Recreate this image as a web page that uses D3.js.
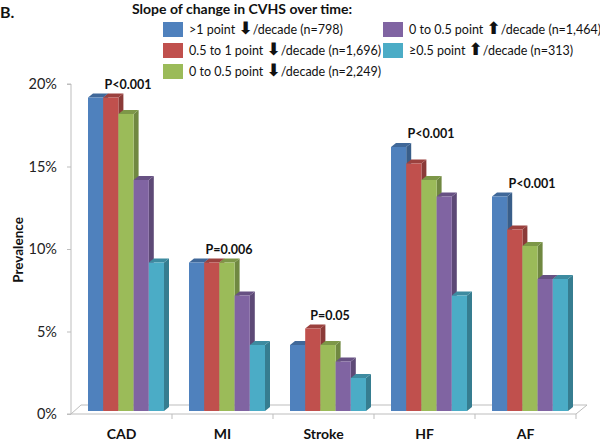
<!DOCTYPE html>
<meta charset="utf-8">
<style>
body { margin: 0; background: #fff; }
text { font-family: Lato, "Open Sans", sans-serif; fill: #111; }
.axis text { font-size: 14.5px; fill: #222; }
.bold { font-weight: bold; }
</style>
<svg width="600" height="441"></svg>
<script src="https://cdn.jsdelivr.net/npm/d3@7"></script>
<script>

// data
var categories = ["CAD", "MI", "Stroke", "HF", "AF"];
// legend labels split around the arrow glyph
var seriesBefore = [">1 point ", "0.5 to 1 point ", "0 to 0.5 point ", "0 to 0.5 point ", "\u22650.5 point "];
var seriesArrow = ["\u2B07", "\u2B07", "\u2B07", "\u2B06", "\u2B06"];
var seriesAfter = ["/decade (n=798)", "/decade (n=1,696)", "/decade (n=2,249)", "/decade (n=1,464)", "/decade (n=313)"];
var seriesColors = ["#4F81BD", "#C0504D", "#9BBB59", "#8064A2", "#4BACC6"];
var values = [
  [19, 19, 18, 14, 9],   // CAD
  [9, 9, 9, 7, 4],       // MI
  [4, 5, 4, 3, 2],       // Stroke
  [16, 15, 14, 13, 7],   // HF
  [13, 11, 10, 8, 8]     // AF
];
var pValues = ["P<0.001", "P=0.006", "P=0.05", "P<0.001", "P<0.001"];
var yTicks = [0, 5, 10, 15, 20];

var svg = d3.select("svg");

// depth of the 3d look
var dx = 5, dy = 4, lift = 3;

var x0 = d3.scaleBand()
    .domain(categories)
    .range([71, 576]);

var x1 = d3.scaleBand()
    .domain(d3.range(seriesColors.length))
    .range([17, 93]);

var y = d3.scaleLinear()
    .domain([0, 20])
    .range([414, 84]);

// floor
var floorCol = "#bdbdbd";
svg.append("path")
    .attr("d", "M" + x0.range()[0] + "," + y(0) +
               "L" + (x0.range()[0] + 10) + "," + (y(0) - 9) +
               "L" + (x0.range()[1] + 11) + "," + (y(0) - 9) +
               "L" + x0.range()[1] + "," + y(0) + "Z")
    .attr("fill", "none")
    .attr("stroke", floorCol);

// category ticks
svg.append("g")
  .selectAll("line")
  .data(categories)
  .enter().append("line")
    .attr("x1", function(d) { return x0(d) + x0.bandwidth(); })
    .attr("x2", function(d) { return x0(d) + x0.bandwidth(); })
    .attr("y1", y(0))
    .attr("y2", y(0) + 5)
    .attr("stroke", floorCol);

// y axis
var yAxis = svg.append("g")
    .attr("class", "axis")
    .attr("transform", "translate(71,0)")
    .call(d3.axisLeft(y)
      .tickValues(yTicks)
      .tickSize(4)
      .tickPadding(10)
      .tickFormat(function(d) { return d + "%"; }));
yAxis.selectAll("line").attr("stroke", floorCol);
yAxis.select(".domain").attr("stroke", floorCol).attr("d", "M-4," + y(20) + "H0V" + y(0) + "H-4");
yAxis.selectAll("text").style("font-family", "Lato, sans-serif");

// bars
var groups = svg.append("g")
  .selectAll("g")
  .data(categories)
  .enter().append("g")
    .attr("transform", function(d) { return "translate(" + x0(d) + "," + (-lift) + ")"; });

groups.each(function(cat, ci) {
  var g = d3.select(this);
  values[ci].forEach(function(v, si) {
    var bx = x1(si), bw = x1.bandwidth(), top = y(v), bot = y(0);
    var c = seriesColors[si];
    // side face
    g.append("path")
      .attr("d", "M" + (bx + bw) + "," + top + "L" + (bx + bw + dx) + "," + (top - dy) +
                 "L" + (bx + bw + dx) + "," + (bot - dy) + "L" + (bx + bw) + "," + bot + "Z")
      .attr("fill", d3.color(c).darker(0.9));
    // top face
    g.append("path")
      .attr("d", "M" + bx + "," + top + "L" + (bx + dx) + "," + (top - dy) +
                 "L" + (bx + bw + dx) + "," + (top - dy) + "L" + (bx + bw) + "," + top + "Z")
      .attr("fill", d3.color(c).darker(0.6));
    // front face
    g.append("rect")
      .attr("x", bx)
      .attr("y", top)
      .attr("width", bw)
      .attr("height", bot - top)
      .attr("fill", c);
  });
  g.append("text")
    .attr("class", "bold")
    .attr("x", x1(0) + (x1.range()[1] - x1.range()[0]) / 2 + 2)
    .attr("y", y(d3.max(values[ci])) - 9)
    .attr("text-anchor", "middle")
    .style("font-size", "12.5px")
    .text(pValues[ci]);
});

// category labels
svg.append("g")
  .selectAll("text")
  .data(categories)
  .enter().append("text")
    .attr("class", "bold")
    .attr("x", function(d) { return x0(d) + x0.bandwidth() / 2; })
    .attr("y", 439)
    .attr("text-anchor", "middle")
    .style("font-size", "14px")
    .text(function(d) { return d; });

// y title
svg.append("text")
    .attr("class", "bold")
    .attr("transform", "translate(23,250) rotate(-90)")
    .attr("text-anchor", "middle")
    .style("font-size", "13.5px")
    .text("Prevalence");

// panel letter
svg.append("text")
    .attr("class", "bold")
    .attr("x", 0)
    .attr("y", 18)
    .style("font-size", "16px")
    .text("B.");

// legend
svg.append("text")
    .attr("class", "bold")
    .attr("x", 132)
    .attr("y", 14)
    .style("font-size", "14px")
    .text("Slope of change in CVHS over time:");

var legendPos = [[163, 22], [163, 43], [163, 64], [383, 22], [383, 43]];
var legend = svg.append("g")
  .selectAll("g")
  .data(seriesColors)
  .enter().append("g")
    .attr("transform", function(d, i) { return "translate(" + legendPos[i][0] + "," + legendPos[i][1] + ")"; });

legend.append("rect")
    .attr("width", 20)
    .attr("height", 15)
    .attr("fill", function(d) { return d; });

var lt = legend.append("text")
    .attr("x", 26)
    .attr("y", 12)
    .style("font-size", "12.5px");
lt.append("tspan").text(function(d, i) { return seriesBefore[i]; });
lt.append("tspan")
    .style("font-family", "DejaVu Sans")
    .style("font-size", "17px")
    .style("font-weight", "bold")
    .text(function(d, i) { return seriesArrow[i]; });
lt.append("tspan").text(function(d, i) { return seriesAfter[i]; });

</script>
